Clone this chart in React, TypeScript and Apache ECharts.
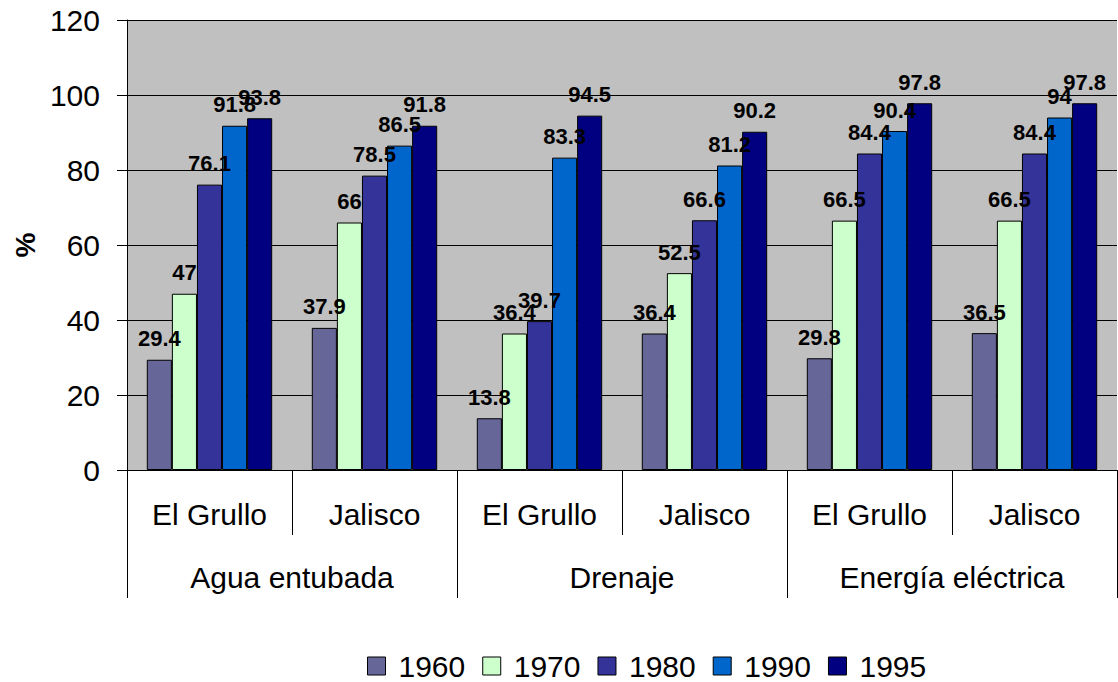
import React, { useEffect, useRef } from "react";
import * as echarts from "echarts";

const subCategories = ["El Grullo", "Jalisco", "El Grullo", "Jalisco", "El Grullo", "Jalisco"];
const groupCategories = ["Agua entubada", "Drenaje", "Energía eléctrica"];
const years = ["1960", "1970", "1980", "1990", "1995"];
const colors = ["#666699", "#CCFFCC", "#333399", "#0066CC", "#000080"];

const v1960 = [29.4, 37.9, 13.8, 36.4, 29.8, 36.5];
const v1970 = [47, 66, 36.4, 52.5, 66.5, 66.5];
const v1980 = [76.1, 78.5, 39.7, 66.6, 84.4, 84.4];
const v1990 = [91.8, 86.5, 83.3, 81.2, 90.4, 94];
const v1995 = [93.8, 91.8, 94.5, 90.2, 97.8, 97.8];
const seriesValues = [v1960, v1970, v1980, v1990, v1995];

const FONT = "'Liberation Sans', Arial, sans-serif";

export default function App() {
  const ref = useRef<HTMLDivElement>(null);
  useEffect(() => {
    document.body.style.margin = "0";
    const chart = echarts.init(ref.current!, null, { renderer: "svg" });
    chart.setOption({
      animation: false,
      backgroundColor: "#ffffff",
      textStyle: { fontFamily: FONT },
      grid: {
        left: 127,
        right: 1,
        top: 20,
        bottom: 212,
        containLabel: false,
        outerBoundsMode: "none",
        show: true,
        backgroundColor: "#C0C0C0",
        borderWidth: 0,
      },
      legend: {
        top: 651,
        left: 367,
        padding: 0,
        itemWidth: 18,
        itemHeight: 18,
        itemGap: 17,
        icon: "rect",
        itemStyle: { borderColor: "#000", borderWidth: 1 },
        textStyle: { fontSize: 30, color: "#000", fontFamily: FONT, padding: [0, 0, 0, 8] },
        data: years,
      },
      xAxis: [
        {
          type: "category",
          data: subCategories,
          position: "bottom",
          axisLine: { lineStyle: { color: "#000", width: 1 } },
          axisTick: { show: true, length: 65, interval: 0, lineStyle: { color: "#000" } },
          axisLabel: { interval: 0, fontSize: 30, color: "#000", margin: 29, fontFamily: FONT },
        },
        {
          type: "category",
          data: groupCategories,
          position: "bottom",
          axisLine: { show: false },
          axisTick: { show: true, length: 128, interval: 0, lineStyle: { color: "#000" } },
          axisLabel: { interval: 0, fontSize: 30, color: "#000", margin: 92, fontFamily: FONT },
        },
      ],
      yAxis: {
        type: "value",
        min: 0,
        max: 120,
        interval: 20,
        name: "%",
        nameLocation: "middle",
        nameRotate: 90,
        nameGap: 86,
        nameTextStyle: { fontSize: 28, fontWeight: "bold", color: "#000", fontFamily: FONT },
        axisLine: { show: true, lineStyle: { color: "#000" } },
        axisTick: { show: true, length: 10, lineStyle: { color: "#000" } },
        axisLabel: { fontSize: 30, color: "#000", margin: 27, fontFamily: FONT },
        splitLine: { show: true, lineStyle: { color: "#000", width: 1 } },
      },
      series: years.map((y, i) => ({
        name: y,
        type: "bar",
        xAxisIndex: 0,
        data: seriesValues[i],
        barGap: "0%",
        barCategoryGap: "24%",
        itemStyle: { color: colors[i], borderColor: "#000", borderWidth: 1 },
        label: {
          show: true,
          position: "top",
          distance: 10,
          fontSize: 22,
          fontWeight: "bold",
          color: "#000",
          fontFamily: FONT,
        },
      })),
    });
    return () => chart.dispose();
  }, []);
  return <div ref={ref} style={{ width: 1118, height: 682 }} />;
}
